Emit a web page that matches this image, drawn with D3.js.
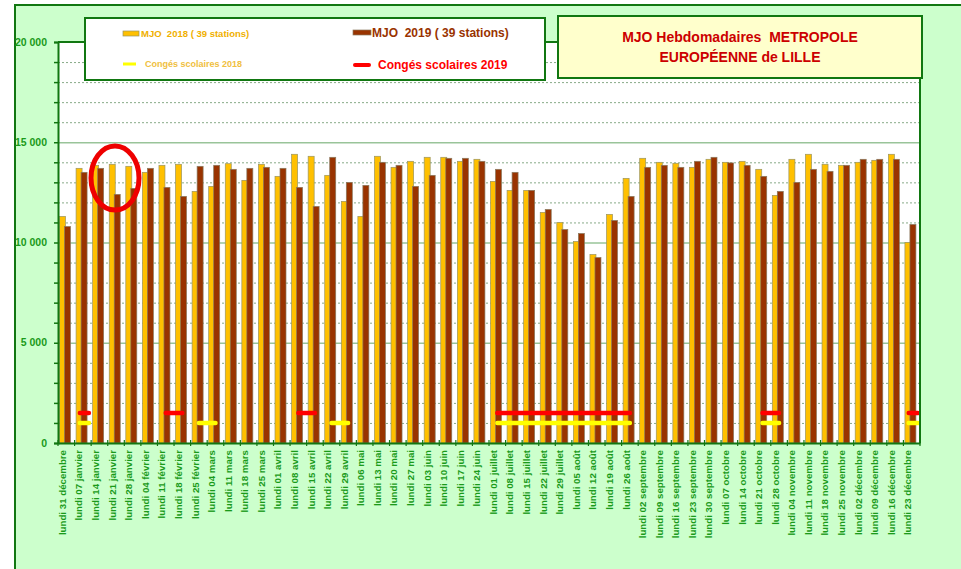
<!DOCTYPE html>
<head>
  <meta charset="utf-8">
  <script src="https://cdn.jsdelivr.net/npm/d3@7/dist/d3.min.js"></script>
  <style>
    body { margin:0; background:#fff; }
    svg { display:block; font-family:"Liberation Sans", Arial, sans-serif; }
  </style>
</head>
<body>
<svg width="961" height="569"></svg>
<script>
var weeks = ["lundi 31 décembre","lundi 07 janvier","lundi 14 janvier","lundi 21 janvier","lundi 28 janvier",
  "lundi 04 février","lundi 11 février","lundi 18 février","lundi 25 février","lundi 04 mars","lundi 11 mars",
  "lundi 18 mars","lundi 25 mars","lundi 01 avril","lundi 08 avril","lundi 15 avril","lundi 22 avril",
  "lundi 29 avril","lundi 06 mai","lundi 13 mai","lundi 20 mai","lundi 27 mai","lundi 03 juin","lundi 10 juin",
  "lundi 17 juin","lundi 24 juin","lundi 01 juillet","lundi 08 juillet","lundi 15 juillet","lundi 22 juillet",
  "lundi 29 juillet","lundi 05 août","lundi 12 août","lundi 19 août","lundi 26 août","lundi 02 septembre",
  "lundi 09 septembre","lundi 16 septembre","lundi 23 septembre","lundi 30 septembre","lundi 07 octobre",
  "lundi 14 octobre","lundi 21 octobre","lundi 28 octobre","lundi 04 novembre","lundi 11 novembre",
  "lundi 18 novembre","lundi 25 novembre","lundi 02 décembre","lundi 09 décembre","lundi 16 décembre",
  "lundi 23 décembre"];

var mjo2018 = [11300,13700,13850,13900,13800,13500,13850,13900,12550,12800,13930,13100,13900,13300,14400,14300,
  13350,12050,11300,14300,13750,14050,14250,14250,14050,14150,13050,12600,12600,11500,11000,10050,9400,11400,
  13200,14200,14000,13950,13750,14150,14000,14050,13650,12350,14150,14400,13900,13850,14000,14100,14400,10000];

var mjo2019 = [10800,13500,13700,12400,12700,13700,12750,12300,13800,13850,13650,13700,13750,13700,12750,11800,
  14250,13000,12850,14000,13850,12800,13350,14200,14200,14050,13650,13500,12600,11650,10650,10450,9250,11100,
  12300,13750,13850,13750,14050,14250,13970,13850,13300,12550,13000,13650,13550,13850,14150,14150,14150,10900];

// holiday weeks, [first, last] week index
var conges2018 = [[1,1],[8,9],[16,17],[26,34],[42,43],[51,51]];
var conges2019 = [[1,1],[6,7],[14,15],[26,34],[42,43],[51,51]];

var yTicks = [0, 5000, 10000, 15000, 20000];

var svg = d3.select("svg");
var dark = "#117711";

// outer frame
svg.append("rect").attr("x", 15).attr("y", 5).attr("width", 980).attr("height", 600)
  .attr("fill", "#ccffcc").attr("stroke", dark).attr("stroke-width", 2);

var pLeft = 58, pRight = 920, pTop = 42, pBottom = 443;

var x = d3.scaleBand().domain(weeks).range([pLeft, pRight]);
var y = d3.scaleLinear().domain([0, 20000]).range([pBottom, pTop]);
var cx = function (i) { return x.range()[0] + x.step() * (i + 0.5); };

svg.append("rect").attr("x", pLeft).attr("y", pTop).attr("width", pRight - pLeft).attr("height", pBottom - pTop)
  .attr("fill", "#fff");

svg.append("clipPath").attr("id", "plot").append("rect")
  .attr("x", pLeft).attr("y", pTop).attr("width", pRight - pLeft - 1).attr("height", pBottom - pTop);

// grid
svg.append("g").selectAll("line").data(d3.range(1000, 20000, 1000)).enter().append("line")
  .attr("x1", pLeft).attr("x2", pRight)
  .attr("y1", function (d) { return y(d) + 0.5; }).attr("y2", function (d) { return y(d) + 0.5; })
  .attr("stroke", function (d) { return d % 5000 ? "#88aa88" : "#99c499"; })
  .attr("stroke-width", function (d) { return d % 5000 ? 1 : 1.5; })
  .attr("stroke-dasharray", function (d) { return d % 5000 ? "2,2" : null; });

// bars
var bw = 6;
svg.append("g").selectAll("rect").data(mjo2018).enter().append("rect")
  .attr("x", function (d, i) { return x(weeks[i]) + 1.5; })
  .attr("y", function (d) { return y(d); })
  .attr("width", bw).attr("height", function (d) { return pBottom - y(d); })
  .attr("fill", "#ffc000").attr("stroke", "#9a9560").attr("stroke-width", 0.7);

svg.append("g").selectAll("rect").data(mjo2019).enter().append("rect")
  .attr("x", function (d, i) { return x(weeks[i]) + 6.5; })
  .attr("y", function (d) { return y(d); })
  .attr("width", bw).attr("height", function (d) { return pBottom - y(d); })
  .attr("fill", "#993300").attr("stroke", "#8a7a60").attr("stroke-width", 0.7);

// school holidays
function conges(data, level, color) {
  svg.append("g").attr("clip-path", "url(#plot)").selectAll("line").data(data).enter().append("line")
    .attr("x1", function (d) { return d[0] === d[1] ? cx(d[0]) - 3 : cx(d[0]); })
    .attr("x2", function (d) { return d[0] === d[1] ? cx(d[1]) + 6 : cx(d[1]); })
    .attr("y1", y(level)).attr("y2", y(level))
    .attr("stroke", color).attr("stroke-width", 4.5).attr("stroke-linecap", "round");
}
conges(conges2018, 1000, "#ffff00");
conges(conges2019, 1500, "#ff0000");

// plot borders
svg.append("line").attr("x1", pLeft).attr("x2", pRight).attr("y1", pTop).attr("y2", pTop)
  .attr("stroke", dark).attr("stroke-width", 2);
svg.append("line").attr("x1", pRight).attr("x2", pRight).attr("y1", pTop).attr("y2", pBottom)
  .attr("stroke", dark).attr("stroke-width", 2);

// y axis
var yAxis = svg.append("g").attr("transform", "translate(" + pLeft + ",0)")
  .call(d3.axisLeft(y).tickValues(d3.range(0, 20001, 1000)).tickSize(4).tickFormat(""));
yAxis.select(".domain").attr("stroke", dark).attr("stroke-width", 2);
yAxis.selectAll(".tick line").attr("stroke", dark).attr("stroke-width", 1.5);

svg.append("g").selectAll("text").data(yTicks).enter().append("text")
  .attr("x", 47).attr("y", function (d) { return y(d); }).attr("dy", "0.35em")
  .attr("text-anchor", "end").attr("font-size", 10.5).attr("font-weight", "bold").attr("fill", "#1a9a1a")
  .text(function (d) { return d === 0 ? "0" : d3.format(",")(d).replace(",", " "); });

// x axis
var xAxis = svg.append("g").attr("transform", "translate(0," + pBottom + ")")
  .call(d3.axisBottom(x).tickValues([]).tickSizeOuter(0));
xAxis.select(".domain").attr("stroke", dark).attr("stroke-width", 2);
svg.append("g").selectAll("line").data(d3.range(weeks.length + 1)).enter().append("line")
  .attr("x1", function (i) { return cx(i) - x.step() / 2; }).attr("x2", function (i) { return cx(i) - x.step() / 2; })
  .attr("y1", pBottom - 3).attr("y2", pBottom + 3).attr("stroke", dark).attr("stroke-width", 1.2);

svg.append("g").selectAll("text").data(weeks).enter().append("text")
  .attr("transform", function (d) { return "translate(" + (x(d) + 4.5) + "," + (pBottom + 7) + ") rotate(-90)"; })
  .attr("dy", "0.35em").attr("text-anchor", "end")
  .attr("font-size", 9.7).attr("font-weight", "bold").attr("fill", "#1a9a1a")
  .text(function (d) { return d; });

// legend
var lg = svg.append("g");
lg.append("rect").attr("x", 85).attr("y", 18).attr("width", 460).attr("height", 62)
  .attr("fill", "#fff").attr("stroke", dark).attr("stroke-width", 2);
lg.append("rect").attr("x", 123).attr("y", 31).attr("width", 16).attr("height", 5)
  .attr("fill", "#ffc000").attr("stroke", "#9a9560").attr("stroke-width", 0.7);
lg.append("text").attr("x", 141).attr("y", 37).attr("font-size", 9.5).attr("font-weight", "bold")
  .attr("fill", "#f0b000").attr("xml:space", "preserve").text("MJO  2018 ( 39 stations)");
lg.append("line").attr("x1", 123).attr("x2", 136).attr("y1", 64).attr("y2", 64)
  .attr("stroke", "#ffff00").attr("stroke-width", 3);
lg.append("text").attr("x", 145).attr("y", 67).attr("font-size", 9).attr("font-weight", "bold")
  .attr("fill", "#f0c040").text("Congés scolaires 2018");
lg.append("rect").attr("x", 353).attr("y", 30).attr("width", 18).attr("height", 5)
  .attr("fill", "#993300").attr("stroke", "#8a7a60").attr("stroke-width", 0.7);
lg.append("text").attr("x", 372).attr("y", 37).attr("font-size", 12).attr("font-weight", "bold")
  .attr("fill", "#993300").attr("xml:space", "preserve").text("MJO  2019 ( 39 stations)");
lg.append("line").attr("x1", 355).attr("x2", 369).attr("y1", 65).attr("y2", 65)
  .attr("stroke", "#ff0000").attr("stroke-width", 4).attr("stroke-linecap", "round");
lg.append("text").attr("x", 378).attr("y", 69).attr("font-size", 12).attr("font-weight", "bold")
  .attr("fill", "#ff0000").text("Congés scolaires 2019");

// title
svg.append("rect").attr("x", 558).attr("y", 16).attr("width", 364).attr("height", 62)
  .attr("fill", "#ffffcc").attr("stroke", dark).attr("stroke-width", 2);
svg.append("text").attr("x", 740).attr("y", 42).attr("text-anchor", "middle")
  .attr("font-size", 14).attr("font-weight", "bold").attr("fill", "#cc0000")
  .attr("xml:space", "preserve").text("MJO Hebdomadaires  METROPOLE");
svg.append("text").attr("x", 740).attr("y", 62).attr("text-anchor", "middle")
  .attr("font-size", 14).attr("font-weight", "bold").attr("fill", "#cc0000")
  .text("EUROPÉENNE de LILLE");

// red circle annotation
svg.append("ellipse").attr("cx", 115).attr("cy", 178).attr("rx", 24).attr("ry", 32)
  .attr("fill", "none").attr("stroke", "#ee0000").attr("stroke-width", 5);
</script>
</body>
